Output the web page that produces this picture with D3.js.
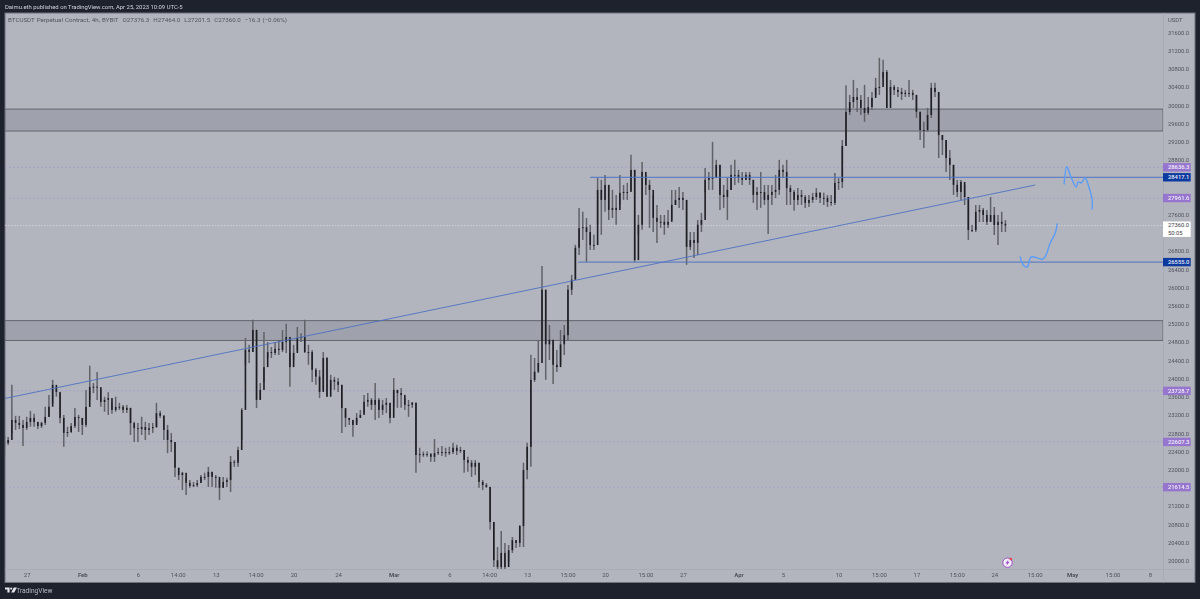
<!DOCTYPE html>
<html>
<head>
<meta charset="utf-8">
<script src="https://cdn.jsdelivr.net/npm/d3@7"></script>
<style>
  html, body { margin: 0; padding: 0; background: #1e222d; overflow: hidden; }
  svg { display: block; font-family: Roboto, sans-serif; filter: blur(0.3px); }
</style>
</head>
<body>
<svg id="chart" width="1200" height="599"></svg>
<script>
// candles, one every 8h starting Jan 25 (open = previous close)
const closes = [
  22585,22650,23090,23025,22980,22915,23045,23135,23045,22955,
  23025,23155,23380,23860,23705,23135,22805,22825,22955,23155,
  23135,22980,23375,23815,23820,23810,23485,23530,23570,23310,
  23375,23380,23310,23355,23020,22910,22890,22935,22870,22910,
  22935,23240,23180,22870,22650,22605,22040,21880,21930,21710,
  21640,21660,21705,21840,21840,21950,21840,21840,21600,21730,
  21770,22170,22150,22430,23310,24630,24585,25065,23530,23750,
  24250,24580,24560,24650,24625,24800,24910,24250,24560,24890,
  24910,24580,24580,24190,24040,23705,24450,23600,23970,23930,
  23860,23350,23135,23090,22980,23135,23200,23490,23530,23420,
  23530,23310,23420,23465,23135,23750,23680,23640,23420,23420,
  23470,22320,22340,22340,22340,22280,22360,22385,22385,22360,
  22385,22480,22410,22430,22210,22150,22060,22150,21730,21660,
  21620,20850,20010,19860,20170,19860,20230,20450,20390,20760,
  21990,22500,23970,24150,24340,25950,24750,24850,24300,24250,
  24750,24950,25950,26170,26870,27300,27320,27215,26930,26930,
  28140,27920,28250,27700,27745,27700,28075,28095,28095,28580,
  26600,27375,28535,28250,28140,27525,27440,27440,27375,27440,
  27810,27920,27965,27920,26890,27040,26975,27375,27480,28360,
  28405,28405,28690,28030,27985,28140,28470,28470,28405,28360,
  28470,28360,28030,28095,28095,27920,28030,28095,28140,28580,
  28535,28180,28095,27920,28030,27985,27855,27920,27985,28075,
  27965,27965,27875,27855,28295,28315,29105,29850,30070,30180,
  30115,29940,29830,29960,30160,30380,30400,30730,29940,30400,
  30335,30290,30245,30270,30270,30225,29855,29455,29455,29785,
  30380,30290,29345,29235,28840,28690,28250,28095,28315,27985,
  27260,27260,27660,27700,27590,27440,27590,27370,27440,27395,27360
];
const highs = [
  22760,22715,23860,23180,23180,23090,23160,23290,23225,23050,
  23050,23380,23640,23970,23815,23680,23200,22940,23025,23350,
  23200,23130,23750,24280,23900,24145,23750,23600,23700,23465,
  23600,23465,23420,23420,23355,23050,23025,23160,23050,23025,
  23025,23465,23290,23200,22980,22805,22605,22040,21950,21820,
  21770,21730,21770,21880,21930,22060,21950,21880,21770,21840,
  21820,22300,22210,22500,23350,24890,24740,25290,25070,23900,
  25020,24800,24690,24800,24845,25065,25200,24560,24740,25130,
  24995,25290,24740,24625,24230,24185,24580,24470,24080,24035,
  24010,23860,23310,23135,23090,23240,23310,23640,23680,23570,
  23900,23570,23530,23570,23465,24010,23750,23790,23570,23530,
  23485,23465,22480,22395,22395,22365,22670,22480,22520,22480,
  22500,22590,22545,22500,22430,22280,22210,22210,22150,21770,
  21705,21620,20850,20300,20650,20390,20345,20520,20455,20785,
  22150,22590,24520,24450,24845,26470,25945,25175,24845,24625,
  25065,25175,26055,26275,26935,27745,27660,27525,27375,27155,
  28400,28360,28470,28250,28140,28030,28470,28250,28295,28910,
  28580,27590,28755,28470,28360,28030,27810,27590,27590,27700,
  28140,28140,28205,28095,27920,27215,27215,27480,27635,28620,
  28535,29195,28800,28690,28250,28405,28690,28800,28580,28535,
  28535,28535,28360,28205,28535,28250,28250,28250,28470,28800,
  28690,28800,28250,28140,28180,28140,28030,28030,28075,28180,
  28095,28075,28030,28030,28510,28400,29235,30440,30225,30555,
  30375,30225,30445,30180,30290,30600,31040,30995,30775,30555,
  30445,30400,30380,30335,30555,30335,30225,29855,29635,29940,
  30490,30490,30290,29345,29235,29015,28690,28360,28360,28250,
  27985,27370,27810,27810,27745,27700,27985,27765,27590,27660,27480
];
const lows = [
  22320,22540,22805,22870,22890,22520,22870,22940,22940,22890,
  22915,22980,23160,23460,23600,23020,22500,22720,22805,22915,
  22825,22760,22935,23530,23680,23530,23380,23270,23200,23225,
  23270,23310,23240,23240,22760,22605,22605,22760,22650,22760,
  22805,22915,23135,22650,22360,22385,21840,21770,21550,21440,
  21600,21620,21620,21730,21770,21620,21620,21600,21335,21600,
  21620,21510,22060,22060,22650,24300,24340,24580,23350,23530,
  23925,24450,24450,24515,24515,24580,24560,23820,24405,24625,
  24800,24560,24300,23925,23860,23570,23750,23600,23750,23750,
  23705,22805,22935,22980,22720,23020,23135,23240,23380,23310,
  23090,23135,23200,23240,23020,23380,23355,23355,23310,23160,
  23355,21930,22150,22280,22280,22170,22170,22320,22300,22280,
  22320,22340,22320,22365,21930,21950,21840,21880,21600,21550,
  21600,20680,19860,19500,19500,19500,19970,20170,20280,20300,
  20300,21790,22060,23925,24120,24845,23970,24405,23880,24140,
  24300,24515,24845,25835,26165,26710,27040,26560,26820,26820,
  27375,27155,27660,27480,27525,27375,27810,27920,27920,28140,
  26560,27155,27265,28030,27305,27215,26975,27305,27155,27305,
  27480,27810,27745,27700,26495,26820,26645,26710,27215,28095,
  28140,28140,28400,27700,27745,27480,28140,28250,28295,28250,
  28360,28250,27855,27700,27745,27810,27170,27810,27960,28030,
  28400,27810,27810,27680,27810,27810,27745,27765,27855,27920,
  27855,27810,27765,27790,27810,28140,28180,29105,29785,29940,
  29850,29785,29635,29785,29895,30225,30225,30600,29940,30225,
  30225,30180,30115,30180,30180,30115,29720,29235,29060,29415,
  29720,30180,28840,28905,28535,28360,28030,27985,27920,27810,
  27040,27215,27215,27435,27435,27370,27435,27150,26930,27215,27215
];

// price axis, the ticks hidden behind the price labels are left out
const priceTicks = [20000,20400,20800,21200,22000,22400,22800,23200,23600,24000,24400,24800,25200,25600,26000,26400,26800,27600,28800,29200,29600,30000,30400,30800,31200,31600];
// time axis, days counted from Jan 27
const timeTickDays = [0,5,10,13.58,17,20.58,24,28,33,38,41.58,45,48.63,52,55.63,59,64,68,73,76.63,80,83.63,87,90.63,94,97.63,101];
const timeTickLabels = ['27','Feb','6','14:00','13','14:00','20','24','Mar','6','14:00','13','15:00','20','15:00','27','Apr','5','10','15:00','17','15:00','24','15:00','May','15:00','8'];
const monthLabels = ['Feb','Mar','Apr','May'];

// drawings
const zones = [[29914, 29433], [25270, 24835]];
const dottedLevels = [28636.3, 27961.6, 23728.7, 22607.3, 21614.5];
const blueLevels = [[28417.1, 50.66], [26555.0, 49.58]];
const trendDays = [-1.95, 90.68];
const trendPrices = [23562, 28248];
const brushDaysA = [93.28,93.52,93.82,94.36,94.54,94.81,95.17,95.53,95.8,95.8];
const brushPricesA = [28270,28650,28468,28204,28314,28292,28402,28182,27919,27722];
const brushDaysB = [89.33,89.6,89.96,90.32,91.4,92.03,92.48,92.66];
const brushPricesB = [26668,26492,26448,26668,26624,26975,27195,27392];
const lastPrice = 27360;

const headerText = 'Daimu.eth published on TradingView.com, Apr 25, 2023 10:09 UTC-5';
const legendText = 'BTCUSDT Perpetual Contract, 4h, BYBIT  O27376.3  H27464.0  L27201.5  C27360.0  \u221216.3 (\u22120.06%)';

const frame = { left: 5, top: 13, right: 1195, bottom: 582.5 };
const plot = { left: 5, top: 13, right: 1163, bottom: 569 };
const axisFont = 5.8;

const jan27 = Date.UTC(2023, 0, 27);
const dayToDate = d => new Date(jan27 + d * 864e5);

const x = d3.scaleUtc().domain([dayToDate(0), dayToDate(101)]).range([26.7, 1150]);
const y = d3.scaleLinear().domain([20000, 31600]).range([560.7, 32.3]);

const svg = d3.select('#chart');

svg.append('rect')
  .attr('x', frame.left).attr('y', frame.top)
  .attr('width', frame.right - frame.left).attr('height', frame.bottom - frame.top)
  .attr('fill', '#b2b5be').attr('stroke', '#6f727d').attr('stroke-width', 1);

svg.append('text').attr('x', 5).attr('y', 9.2)
  .attr('font-size', 5.9).attr('fill', '#d1d4dc').text(headerText);

svg.append('defs').append('clipPath').attr('id', 'plotClip').append('rect')
  .attr('x', plot.left).attr('y', plot.top)
  .attr('width', plot.right - plot.left).attr('height', plot.bottom - plot.top);

const plotLayer = svg.append('g').attr('clip-path', 'url(#plotClip)');

// pane separators
svg.append('line').attr('x1', plot.right + 0.5).attr('x2', plot.right + 0.5).attr('y1', frame.top).attr('y2', frame.bottom)
  .attr('stroke', '#a9acb6');
svg.append('line').attr('x1', frame.left).attr('x2', frame.right).attr('y1', plot.bottom + 0.5).attr('y2', plot.bottom + 0.5)
  .attr('stroke', '#a9acb6');

// zones
zones.forEach(z => {
  plotLayer.append('rect')
    .attr('x', plot.left).attr('width', plot.right - plot.left)
    .attr('y', y(z[0])).attr('height', y(z[1]) - y(z[0]))
    .attr('fill', '#9fa1ac').attr('stroke', '#62656f').attr('stroke-width', 1);
});

// dotted alert levels
plotLayer.selectAll('.level').data(dottedLevels).enter().append('line')
  .attr('class', 'level')
  .attr('x1', plot.left).attr('x2', plot.right)
  .attr('y1', d => y(d)).attr('y2', d => y(d))
  .attr('stroke', '#a09bc6').attr('stroke-width', 0.7).attr('stroke-dasharray', '2 2');

plotLayer.append('line')
  .attr('x1', plot.left).attr('x2', plot.right)
  .attr('y1', y(lastPrice)).attr('y2', y(lastPrice))
  .attr('stroke', '#dfe0e6').attr('stroke-width', 0.7).attr('stroke-dasharray', '1.5 1.5');

// candles
const bars = closes.map((c, i) => ({
  date: dayToDate(-2 + i / 3),
  open: i ? closes[i - 1] : 22600,
  close: c, high: highs[i], low: lows[i]
}));

plotLayer.selectAll('.wick').data(bars).enter().append('line')
  .attr('class', 'wick')
  .attr('x1', d => x(d.date)).attr('x2', d => x(d.date))
  .attr('y1', d => y(d.high)).attr('y2', d => y(d.low))
  .attr('stroke', '#606268').attr('stroke-width', 1.5);

plotLayer.selectAll('.body').data(bars).enter().append('rect')
  .attr('class', 'body')
  .attr('x', d => x(d.date) - 0.8)
  .attr('width', 1.6)
  .attr('y', d => y(Math.max(d.open, d.close)))
  .attr('height', d => Math.max(1, Math.abs(y(d.open) - y(d.close))))
  .attr('fill', '#1e1f24');

// blue levels and trend
plotLayer.selectAll('.blue').data(blueLevels).enter().append('line')
  .attr('class', 'blue')
  .attr('x1', d => x(dayToDate(d[1]))).attr('x2', plot.right)
  .attr('y1', d => y(d[0])).attr('y2', d => y(d[0]))
  .attr('stroke', '#4f72c2').attr('stroke-width', 1);

plotLayer.append('line')
  .attr('x1', x(dayToDate(trendDays[0]))).attr('x2', x(dayToDate(trendDays[1])))
  .attr('y1', y(trendPrices[0])).attr('y2', y(trendPrices[1]))
  .attr('stroke', '#4f72c2').attr('stroke-width', 0.9);

// hand drawn brushes
const brush = d3.line().x(d => x(dayToDate(d[0]))).y(d => y(d[1])).curve(d3.curveCatmullRom);
[[brushDaysA, brushPricesA], [brushDaysB, brushPricesB]].forEach(b => {
  plotLayer.append('path')
    .attr('d', brush(d3.zip(b[0], b[1])))
    .attr('fill', 'none').attr('stroke', '#5b9cf6').attr('stroke-width', 1.4)
    .attr('stroke-linecap', 'round');
});

// axes
const yAxis = d3.axisRight(y).tickValues(priceTicks).tickSize(0).tickFormat(d3.format('.1f'));
const yG = svg.append('g').attr('transform', `translate(${plot.right + 5},0)`).call(yAxis);
yG.select('.domain').remove();
yG.selectAll('text').attr('font-size', axisFont).attr('font-family', 'Roboto, sans-serif').attr('fill', '#50535e').attr('x', 0).attr('dy', '0.32em');

const xAxis = d3.axisBottom(x).tickValues(timeTickDays.map(dayToDate)).tickSize(0)
  .tickFormat((d, i) => timeTickLabels[i]);
const xG = svg.append('g').attr('transform', `translate(0,${plot.bottom + 4.2})`).call(xAxis);
xG.select('.domain').remove();
xG.selectAll('text').attr('font-size', 6).attr('font-family', 'Roboto, sans-serif').attr('fill', '#50535e').attr('y', 0).attr('dy', '0.71em')
  .attr('font-weight', (d, i) => monthLabels.includes(timeTickLabels[i]) ? 700 : 400);

svg.append('text').attr('x', plot.right + 5).attr('y', 22).attr('font-size', axisFont).attr('fill', '#50535e').text('USDT');

svg.append('text').attr('x', 8).attr('y', 22.2).attr('font-size', 6.2).attr('word-spacing', 0.5).attr('fill', '#50535e')
  .style('white-space', 'pre').text(legendText);

// price labels on the axis
const priceLabels = dottedLevels.map(v => ({ v, fill: '#9575cd', color: '#f3eefb' }))
  .concat(blueLevels.map(b => ({ v: b[0], fill: '#0d3a9e', color: '#e8edf8' })));

const labelG = svg.selectAll('.plabel').data(priceLabels).enter().append('g')
  .attr('class', 'plabel')
  .attr('transform', d => `translate(${plot.right},${y(d.v)})`);
labelG.append('rect').attr('x', 0).attr('y', -4.2).attr('width', 27.7).attr('height', 8.4).attr('fill', d => d.fill);
labelG.append('text').attr('x', 5).attr('dy', '0.35em').attr('font-size', axisFont).attr('font-weight', 500)
  .attr('fill', d => d.color).text(d => d3.format('.1f')(d.v));

const lastG = svg.append('g').attr('transform', `translate(${plot.right},${y(lastPrice)})`);
lastG.append('rect').attr('x', 0).attr('y', -4).attr('width', 27.7).attr('height', 15.5).attr('fill', '#ffffff');
lastG.append('text').attr('x', 5).attr('y', 0).attr('dy', '0.35em').attr('font-size', axisFont).attr('fill', '#3a3d46').text(d3.format('.1f')(lastPrice));
lastG.append('text').attr('x', 5).attr('y', 7.3).attr('dy', '0.35em').attr('font-size', axisFont).attr('fill', '#3a3d46').text('50:05');

// news badge
const badge = svg.append('g').attr('transform', 'translate(1007.5,562.7)');
badge.append('circle').attr('r', 4.7).attr('fill', '#f4f0fa').attr('stroke', '#9c4fc4').attr('stroke-width', 1);
badge.append('path').attr('d', 'M1.2,-3.4 L-2.2,0.7 L-0.2,0.7 L-1.2,3.4 L2.2,-0.9 L0.2,-0.9 Z').attr('fill', '#9c4fc4');
badge.append('circle').attr('cx', 3.3).attr('cy', -3.6).attr('r', 1.3).attr('fill', '#e8404f');

// footer logo
const logo = svg.append('g').attr('transform', 'translate(5,587.5)').attr('fill', '#e4e6ec');
logo.append('path').attr('d', 'M0,0 H4.6 V5 H2.4 V2 H0 Z');
logo.append('circle').attr('cx', 6.2).attr('cy', 1.1).attr('r', 1.1);
logo.append('path').attr('d', 'M8.8,0 H11.8 L9.2,5 H6.2 Z');
svg.append('text').attr('x', 16.2).attr('y', 592.6).attr('font-size', 6.6).attr('fill', '#b8bbc4').text('TradingView');
</script>
</body>
</html>
